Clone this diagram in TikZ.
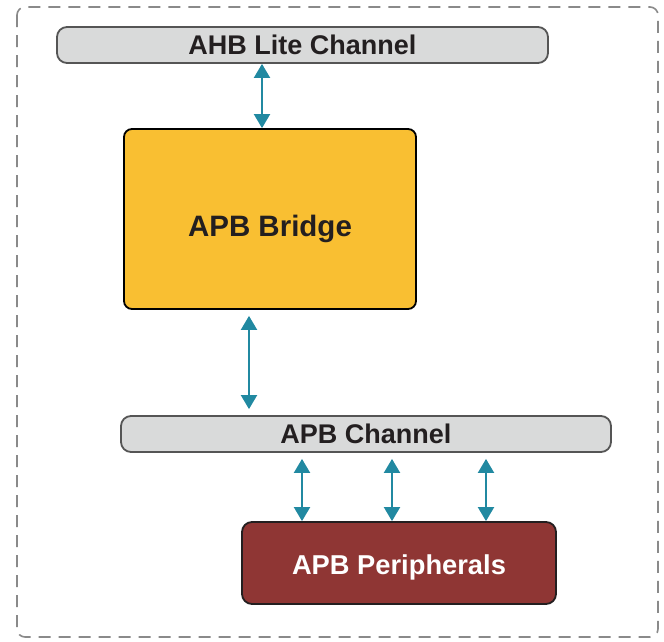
\documentclass[tikz,border=0pt]{standalone}
\usepackage{fontspec}
\setmainfont{Liberation Sans}
\usetikzlibrary{arrows.meta}
\definecolor{chanfill}{HTML}{D9DADA}
\definecolor{chanline}{HTML}{555555}
\definecolor{bridgefill}{HTML}{F9BF32}
\definecolor{perifill}{HTML}{8F3634}
\definecolor{arrcol}{HTML}{2189A1}
\definecolor{txtcol}{HTML}{231F20}
\definecolor{dashcol}{HTML}{8A8A8A}
\newcommand{\lowered}[2]{\raisebox{-#1}[\height][\depth]{#2}}
\tikzset{
  chan/.style={draw=chanline, fill=chanfill, line width=1.8pt, rounded corners=10pt,
    inner sep=0pt, text=txtcol, font=\fontsize{27}{27}\selectfont\bfseries},
  bridgebox/.style={draw=black, fill=bridgefill, line width=1.8pt, rounded corners=8pt,
    inner sep=0pt, text=txtcol, font=\fontsize{29.5}{29.5}\selectfont\bfseries},
  peribox/.style={draw=txtcol, fill=perifill, line width=1.8pt, rounded corners=10pt,
    inner sep=0pt, text=white, font=\fontsize{27.3}{27.3}\selectfont\bfseries},
  arr/.style={draw=arrcol, line width=2pt, {Triangle[width=16pt,length=14pt]}-{Triangle[width=16pt,length=14pt]}}
}
\begin{document}
\begin{tikzpicture}[x=1pt,y=-1pt]
\useasboundingbox (0,0) rectangle (664,641);
\draw[dashcol, line width=1.6pt, dash pattern=on 12pt off 8pt, rounded corners=8pt]
  (17,7) rectangle (658,637);
\node[chan, minimum width=491pt, minimum height=36pt] (ahb) at (302.5,45) {AHB Lite Channel};
\node[bridgebox, minimum width=292pt, minimum height=180pt] (bridge) at (270,219) {\lowered{10pt}{APB Bridge}};
\node[chan, minimum width=490pt, minimum height=36pt] (apbc) at (366,434) {APB Channel};
\node[peribox, minimum width=314pt, minimum height=82pt] (peri) at (399,563) {\lowered{4pt}{APB Peripherals}};
\coordinate (c1) at (262,0);
\coordinate (c2) at (249,0);
\coordinate (c3) at (302,0);
\coordinate (c4) at (392,0);
\coordinate (c5) at (486,0);
\draw[arr] (ahb.south -| c1) -- (bridge.north -| c1);
\draw[arr, shorten <=6pt, shorten >=6pt] (bridge.south -| c2) -- (apbc.north -| c2);
\draw[arr, shorten <=6pt] (apbc.south -| c3) -- (peri.north -| c3);
\draw[arr, shorten <=6pt] (apbc.south -| c4) -- (peri.north -| c4);
\draw[arr, shorten <=6pt] (apbc.south -| c5) -- (peri.north -| c5);
\end{tikzpicture}
\end{document}
